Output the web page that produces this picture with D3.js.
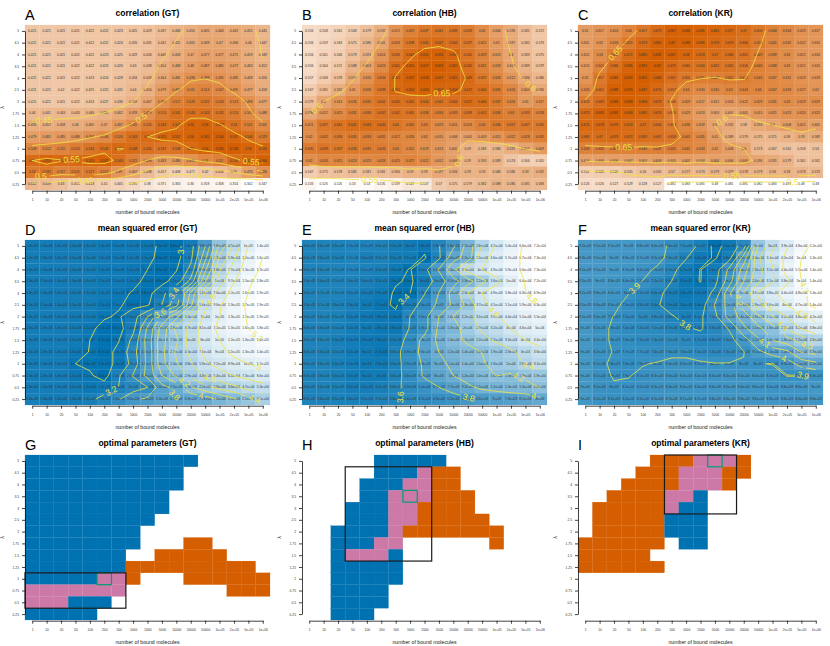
<!doctype HTML>
<html>
<head>
<meta charset="utf-8">
<script src="https://cdn.jsdelivr.net/npm/d3@7"></script>
<style>
	body { margin: 0; background: #fff; }
	text { font-family: "Liberation Sans", Arial, sans-serif; }
	.tick line, .domain { stroke: #111; stroke-width: 0.8; }
	.tick text { font-size: 3.3px; fill: #333; }
	.cellText { font-size: 3.3px; fill: #333; text-anchor: middle; }
	.contourLine { fill: none; stroke: #F0E442; stroke-width: 0.9; }
	.contourLabel { font-size: 8.6px; fill: #F0E442; text-anchor: middle; }
</style>
</head>
<body>
<div id="chart"></div>
<script type="text/javascript">

	var xLabels = ["1","10","20","50","100","200","500","1000","2000","5000","10000","20000","50000","1e+05","2e+05","5e+05","1e+06"];
	var yLabels = ["5","4.5","4","3.5","3","2.5","2","1.75","1.5","1.25","1","0.75","0.5","0.25"];

	var corrGT = [
		[.421,.421,.421,.421,.422,.422,.423,.425,.429,.437,.446,.455,.465,.464,.462,.455,.445],
		[.421,.421,.421,.421,.422,.422,.424,.426,.431,.441,.451,.461,.469,.47,.466,.46,.447],
		[.421,.421,.421,.422,.422,.423,.425,.429,.434,.446,.458,.47,.477,.477,.471,.459,.449],
		[.421,.421,.421,.422,.422,.423,.426,.43,.438,.454,.468,.48,.487,.485,.477,.463,.452],
		[.421,.421,.421,.422,.423,.424,.428,.434,.443,.464,.481,.496,.499,.495,.485,.468,.456],
		[.421,.421,.42,.422,.425,.425,.431,.44,.454,.479,.497,.511,.514,.507,.495,.477,.458],
		[.421,.421,.421,.422,.424,.427,.436,.449,.467,.497,.517,.529,.531,.524,.513,.496,.477],
		[.44,.441,.443,.443,.446,.451,.462,.478,.499,.524,.541,.543,.543,.535,.524,.505,.488],
		[.456,.457,.458,.46,.465,.47,.487,.505,.525,.543,.547,.56,.56,.552,.54,.521,.505],
		[.479,.481,.485,.488,.497,.506,.526,.543,.55,.555,.557,.56,.565,.564,.557,.546,.529],
		[.508,.512,.515,.524,.534,.543,.551,.548,.541,.537,.538,.55,.56,.565,.568,.56,.556],
		[.55,.559,.552,.553,.558,.562,.543,.521,.498,.483,.486,.495,.51,.52,.545,.555,.564],
		[.53,.531,.517,.525,.527,.515,.49,.467,.438,.417,.408,.412,.42,.434,.45,.476,.496],
		[.442,.439,.43,.415,.418,.41,.405,.395,.38,.371,.363,.36,.358,.358,.354,.342,.347]
	];
	var corrHB = [
		[.556,.558,.561,.568,.579,.592,.615,.629,.637,.641,.639,.633,.62,.606,.596,.581,.572],
		[.556,.559,.563,.575,.586,.601,.626,.638,.645,.647,.644,.637,.625,.61,.597,.582,.573],
		[.556,.561,.566,.579,.591,.614,.636,.647,.655,.656,.653,.641,.629,.613,.6,.583,.575],
		[.556,.564,.571,.588,.603,.623,.645,.654,.657,.659,.655,.645,.631,.619,.603,.589,.579],
		[.557,.568,.578,.597,.616,.634,.651,.657,.658,.657,.655,.649,.637,.626,.612,.596,.586],
		[.567,.581,.592,.61,.626,.638,.651,.654,.656,.653,.653,.647,.644,.635,.624,.609,.596],
		[.579,.6,.613,.626,.635,.641,.645,.645,.644,.642,.644,.647,.646,.637,.626,.61,.617],
		[.598,.612,.623,.631,.636,.642,.642,.641,.636,.634,.633,.639,.642,.636,.63,.633,.628],
		[.621,.637,.641,.645,.646,.645,.64,.635,.63,.623,.621,.623,.63,.636,.637,.637,.635],
		[.62,.632,.634,.635,.633,.631,.627,.626,.62,.615,.608,.605,.609,.615,.622,.628,.631],
		[.635,.639,.637,.636,.635,.634,.63,.625,.619,.613,.605,.59,.586,.586,.591,.601,.609],
		[.62,.626,.625,.623,.623,.626,.625,.627,.622,.612,.606,.59,.593,.589,.574,.566,.565],
		[.567,.575,.578,.581,.581,.581,.584,.59,.59,.597,.594,.59,.59,.586,.586,.59,.592],
		[.533,.526,.526,.53,.53,.535,.539,.547,.547,.57,.575,.579,.582,.588,.586,.585,.583]
	];
	var corrKR = [
		[.61,.617,.624,.64,.657,.673,.687,.686,.685,.681,.677,.67,.656,.644,.634,.623,.617],
		[.611,.62,.633,.655,.673,.685,.69,.686,.681,.676,.673,.666,.653,.641,.632,.622,.616],
		[.612,.63,.65,.672,.685,.691,.687,.68,.674,.67,.668,.661,.649,.639,.63,.621,.616],
		[.613,.641,.666,.685,.691,.69,.675,.665,.664,.662,.661,.656,.646,.638,.63,.621,.616],
		[.62,.657,.681,.691,.691,.684,.667,.655,.651,.649,.652,.651,.643,.637,.631,.623,.618],
		[.633,.661,.688,.691,.687,.675,.657,.64,.633,.635,.64,.643,.64,.637,.633,.627,.62],
		[.653,.669,.689,.689,.684,.673,.648,.629,.617,.612,.616,.622,.629,.631,.63,.629,.629],
		[.673,.685,.691,.684,.681,.674,.653,.623,.613,.603,.601,.605,.615,.621,.623,.624,.623],
		[.675,.678,.676,.674,.67,.664,.653,.636,.619,.6,.592,.58,.593,.6,.608,.615,.605],
		[.669,.67,.673,.672,.669,.667,.658,.645,.635,.61,.589,.579,.575,.575,.58,.59,.589],
		[.643,.645,.646,.647,.646,.647,.645,.641,.634,.62,.608,.6,.573,.567,.561,.558,.56],
		[.604,.606,.606,.607,.607,.609,.605,.607,.604,.606,.606,.606,.596,.591,.579,.561,.561],
		[.541,.546,.546,.555,.56,.565,.57,.577,.573,.579,.579,.578,.579,.58,.58,.578,.573],
		[.526,.526,.527,.529,.528,.527,.482,.483,.485,.48,.481,.481,.482,.483,.483,.48,.48]
	];

	// mean squared error, in thousands
	var mseGT = [
		[1.3,1.3,1.3,1.3,1.3,1.2,1.2,1.2,1.1,.94,.88,1.3,3.9,18,45,100,140],
		[1.3,1.3,1.3,1.3,1.3,1.3,1.2,1.2,1.1,.89,.87,1.4,5.5,27,59,120,160],
		[1.3,1.3,1.3,1.3,1.3,1.2,1.2,1.1,1,.85,.97,1.8,8.9,38,77,130,170],
		[1.3,1.3,1.3,1.3,1.3,1.2,1.2,1.1,.92,.88,1.2,2.9,15,50,97,150,180],
		[1.3,1.3,1.3,1.3,1.3,1.2,1.1,.97,.88,1.3,2.9,11,41,76,120,160,190],
		[1.3,1.3,1.3,1.3,1.3,1.1,1.05,.88,.94,1.6,3.4,14,56,96,130,170,190],
		[1.3,1.3,1.3,1.2,1.2,1.05,.95,1.3,2.5,6.8,14,35,70,100,130,165,190],
		[1.3,1.3,1.3,1.2,1.1,.87,.85,1.4,4.3,12,28,47,81,110,130,160,180],
		[1.3,1.3,1.3,1.2,1,.87,.98,1.8,4.8,14,23,50,80,100,120,130,160],
		[1.3,1.3,1.3,1.1,.99,.87,1.1,2.1,4.5,14,27,45,71,90,110,130,140],
		[1.3,1.3,1.3,1,.93,.93,1.05,1.9,4.5,14,24,38,59,72,89,100,110],
		[1.3,1.3,1.3,1.1,1.05,.85,1.5,2.6,4.5,10,17,29,43,54,64,73,86],
		[1.3,1.3,1.3,1.2,1.1,1.2,1.6,2,2.5,5.4,7.5,15,22,29,36,47,53],
		[1.4,1.3,1.3,1.3,1.4,1.9,2.4,3.6,4.3,5.3,6.1,6.9,7.7,11,15,21,31]
	];
	var mseHB = [
		[3.6,3.6,3.6,3.7,3.7,3.6,3.2,3,2.8,3.9,5.8,12,26,42,54,66,72],
		[3.6,3.6,3.5,3.7,3.4,3.5,3.1,3.1,2.4,3.7,8.4,12,35,46,57,67,73],
		[3.6,3.6,3.7,3.7,3.5,3.3,2.9,2.45,3.5,6.6,14,31,40,49,59,66,73],
		[3.6,3.6,3.7,3.6,3.4,3.1,2.6,2.4,3,5,8.5,13,22,36,50,64,72],
		[3.6,3.7,3.7,3.5,3.2,2.9,2.4,2.5,3.9,6.4,12,25,40,49,58,63,69],
		[3.6,3.7,3.6,3.3,3,2.7,2.4,3.4,4.6,7,11,18,37,45,51,59,63],
		[3.6,3.6,3.5,3.2,2.9,2.8,2.7,4,5.5,10,16,22,31,39,44,51,55],
		[3.6,3.6,3.5,3.2,3,2.8,2.8,4.1,5.3,11,13,20,27,32,40,46,50],
		[3.6,3.6,3.3,3.1,2.9,2.8,3.2,4.7,7.3,11,14,17,22,27,33,40,44],
		[3.6,3.6,3.5,3.1,3,2.7,3.6,4.9,7.6,10,12,14,16,19,23,30,36],
		[3.6,3.6,3.4,3.1,3,2.9,3.5,4.9,6.8,9,11,14,15,19,20,26,31],
		[3.6,3.6,3.4,3.1,3,3,3.6,4.6,6.7,8,10,12,14,16,15,18,19],
		[3.6,3.6,3.5,3.2,3.2,3.3,3.8,4.3,5.1,6.3,7.7,9.2,11,12,13,13,16],
		[3.6,3.6,3.5,3.4,3.5,3.7,3.8,4.4,4.7,4.9,5.2,5.9,6.6,7,7.4,8.1,9]
	];
	var mseKR = [
		[9.2,9.1,9.1,9,8.8,8.6,7.6,7.1,6,4.7,5.4,7,20,30,39,48,52],
		[9.3,9.1,9,8.9,8.7,8.5,7.4,6.4,5.4,4.9,5.8,11,24,34,42,50,53],
		[9.1,9.1,9,8.7,8.4,7.7,6.7,5.7,4.98,5.6,8.4,14,23,31,44,51,54],
		[9.1,9,8.8,8.4,7.9,7.2,6.3,5.3,4.98,5.9,9,16,24,31,38,50,54],
		[9.1,8.8,8.6,8,7.2,6.6,5.9,5.3,5.4,6.7,12,20,33,38,44,48,54],
		[9.1,8.6,8.3,7.5,6.9,6.4,5.9,5.6,5.6,8.1,11,18,29,36,40,47,54],
		[9.1,8.4,7.9,7.5,7,6.8,6.4,6,6.1,7.5,11,14,19,25,32,38,42],
		[9,8.2,7.8,7.4,7.2,7.1,6.7,6.4,6.2,6.9,8.1,12,15,18,26,32,38],
		[9,8.2,7.8,7.6,7.3,7.3,7.2,7,6.7,6.8,7.4,9,12,16,18,22,26],
		[9,8.2,7.9,7.7,7.7,7.6,7.6,7.6,7.4,7.1,7.3,7.9,9.5,11,12,16,17],
		[9,8.1,7.8,7.6,7.9,8,8.3,8.3,8.1,8,8,8,8,7.9,8.9,11,12],
		[9,8.1,7.9,7.9,8.1,8.3,8.3,8.4,8.4,8.4,8.4,8.5,8.4,8.3,7.9,7.9,8.3],
		[9,8.1,8,8.1,8.2,8.3,8.3,8.4,8.5,8.6,8.6,8.6,8.6,8.5,8.6,8.6,9],
		[9,8.2,8.1,8.2,8.3,8.5,8.7,8.7,8.7,8.8,8.8,8.8,8.8,8.8,8.8,8.6,8.8]
	];

	// b = low mse only, o = high correlation only, p = both, . = neither
	var optGT = [
		"bbbbbbbbbbbb.....",
		"bbbbbbbbbbb......",
		"bbbbbbbbbbb......",
		"bbbbbbbbbb.......",
		"bbbbbbbbbb.......",
		"bbbbbbbbb........",
		"bbbbbbbb.........",
		"bbbbbbbb...oo....",
		"bbbbbbb..ooooo...",
		"bbbbbbbooooooooo.",
		"bbbbbppo...oooooo",
		"ppppppp.......ooo",
		"pppbbb...........",
		"bbbbb............"
	];
	var optHB = [
		".....bbbbb.......",
		".....bbbpoo......",
		"....bbbppoo......",
		"....bbpppooo.....",
		"...bbbppoooo.....",
		"...bbbppooooo....",
		"..bbbbpooooooo...",
		"..bbbpp......o...",
		"..bpppb..........",
		"..bbbbb..........",
		"..bbbbb..........",
		"..bbbb...........",
		"..bbbb...........",
		"..bbb............"
	];
	var optKR = [
		".....ooopppo.....",
		"....ooopppoo.....",
		"...oooopppo......",
		"..ooooppb........",
		".ooooopbb........",
		".ooooobbb........",
		".ooooobbb........",
		"oooooo.bb........",
		"ooooo............",
		"oooooo...........",
		".................",
		".................",
		".................",
		"................."
	];

	// [first x, last x, first lambda, last lambda]
	var windowGT = ["1","500","1","0.5"];
	var windowHB = ["50","2000","4.5","1.5"];
	var windowKR = ["500","10000","5","3"];
	var bestGT = ["200","1"];
	var bestHB = ["1000","3.5"];
	var bestKR = ["5000","5"];

	var levelsCorr = [0.4,0.45,0.5,0.55,0.6,0.65];
	var levelsGT = [3,3.2,3.4,3.6,3.8,4,4.2,4.4,4.6,4.8,5,5.2];
	var levelsHB = [3.4,3.6,3.8,4,4.2,4.4,4.6,4.8];
	var levelsKR = [3.7,3.8,3.9,4,4.1,4.2,4.3,4.4,4.5,4.6,4.7];

	// contour labels: level, then roughly where on the grid (column, row)
	var labelsCorrGT = [[0.45,0.8,7.6],[0.5,7.5,7.3],[0.55,2.7,10.7],[0.55,15.2,11],[0.5,0.6,12.5],[0.45,3.7,12.6],[0.4,11.4,12.2]];
	var labelsCorrHB = [[0.65,9.2,5.4],[0.6,0.5,6.5],[0.6,15.4,4.7],[0.6,11.5,11.4],[0.55,4.2,12.6]];
	var labelsCorrKR = [[0.65,2,1.75],[0.65,2.7,9.85],[0.6,9.5,7.6],[0.55,10.2,12.2],[0.5,14.4,12.9]];
	var labelsMseGT = [[3,10.3,0.5],[3.2,5.4,12.1],[3.4,9.7,3.9],[3.6,8.8,5.6],[3.8,9.7,12.8],[4,11.7,12.8],[4.2,10.6,11.5],[4.4,15.6,12.7],[4.6,12.3,11.3],[4.8,12.4,4.6],[5,15.7,10.4],[5.2,15.6,7.8]];
	var labelsMseHB = [[3.4,6.6,4.5],[3.6,5.8,12.8],[3.8,11.1,12.8],[4,15.6,12.8],[4.2,14.4,11.4],[4.4,15.3,9.7],[4.6,12.8,5.6],[4.8,15.4,4.6]];
	var labelsMseKR = [[3.9,3.5,3.7],[3.8,7,6.7],[3.9,15.4,11.1],[4,13.8,9.7],[4.1,12.4,8.3],[4.2,10.7,4.6],[4.3,15.4,8.4],[4.4,13.8,6.7],[4.5,12.7,4.9],[4.6,15.1,5.7],[4.7,15,3.6]];

	var panelLeft = [25, 302, 578];
	var rowTop = [25, 240, 455];
	var panelW = 245, panelH = 165;

	var svg = d3.select("#chart").append("svg")
		.attr("width", 830)
		.attr("height", 646);

	var optColors = { b: "#0072B2", o: "#D55E00", p: "#CC79A7" };

	function fmtMse(v) {
		return v.toExponential(1).replace(".0e", "e").replace(/e\+(\d)$/, "e+0$1");
	}

	function drawFrame(letter, title, col, row) {
		var left = panelLeft[col], top = rowTop[row];
		var g = svg.append("g").attr("transform", "translate(" + left + "," + top + ")");
		var x = d3.scaleBand().domain(xLabels).range([0, panelW]);
		var y = d3.scaleBand().domain(yLabels).range([0, panelH]);
		var xAxis = d3.scalePoint().domain(xLabels).range([x.bandwidth() / 2, panelW - x.bandwidth() / 2]);
		var yAxis = d3.scalePoint().domain(yLabels).range([y.bandwidth() / 2, panelH - y.bandwidth() / 2]);

		var cells = g.append("g");

		g.append("g")
			.attr("transform", "translate(0," + (panelH + 0.7) + ")")
			.call(d3.axisBottom(xAxis).tickSize(3).tickPadding(5).tickSizeOuter(0));
		g.append("g")
			.call(d3.axisLeft(yAxis).tickSize(3).tickPadding(3).tickSizeOuter(0));

		g.append("text")
			.attr("x", panelW / 2).attr("y", -9)
			.attr("text-anchor", "middle")
			.style("font-size", "8.5px").style("font-weight", "bold")
			.text(title);
		g.append("text")
			.attr("x", 0).attr("y", -5)
			.style("font-size", "14.5px")
			.text(letter);
		g.append("text")
			.attr("x", panelW / 2).attr("y", panelH + 23.7)
			.attr("text-anchor", "middle")
			.style("font-size", "5.2px").style("fill", "#222")
			.text("number of bound molecules");
		g.append("text")
			.attr("transform", "translate(-21," + (panelH / 2) + ") rotate(-90)")
			.attr("text-anchor", "middle")
			.style("font-size", "5.2px").style("fill", "#222")
			.text("λ");

		return { g: g, cells: cells, x: x, y: y };
	}

	function drawHeat(frame, rows, color, label) {
		var flat = [];
		rows.forEach(function (r, j) {
			r.forEach(function (v, i) {
				flat.push({ x: xLabels[i], y: yLabels[j], v: v });
			});
		});
		frame.cells.selectAll("rect").data(flat).enter().append("rect")
			.attr("x", function (d) { return frame.x(d.x); })
			.attr("y", function (d) { return frame.y(d.y); })
			.attr("width", frame.x.bandwidth())
			.attr("height", frame.y.bandwidth())
			.attr("fill", function (d) { return color(d.v); })
			.attr("stroke", function (d) { return color(d.v); })
			.attr("stroke-width", 0.2);
		frame.cells.selectAll("text").data(flat).enter().append("text")
			.attr("class", "cellText")
			.attr("x", function (d) { return frame.x(d.x) + frame.x.bandwidth() / 2; })
			.attr("y", function (d) { return frame.y(d.y) + frame.y.bandwidth() / 2 + 1.1; })
			.text(function (d) { return label(d.v); });
	}

	// contours come from d3.contours, the parts running along the grid edge are thrown away
	function drawContours(frame, rows, levels, labels) {
		var nx = xLabels.length, ny = yLabels.length;
		var gridX = d3.scaleLinear().domain([0, nx]).range([0, panelW]);
		var gridY = d3.scaleLinear().domain([0, ny]).range([0, panelH]);
		var contours = d3.contours().size([nx, ny]).thresholds(levels)(d3.merge(rows));
		var runs = [];
		contours.forEach(function (c) {
			c.coordinates.forEach(function (poly) {
				poly.forEach(function (ring) {
					splitRing(ring, nx, ny).forEach(function (run) {
						runs.push({ level: c.value, pts: resample(run, gridX, gridY) });
					});
				});
			});
		});

		var marks = labels.map(function (l) {
			var ax = gridX(l[1] + 0.5), ay = gridY(l[2] + 0.5);
			var best = null, bestD = Infinity;
			runs.forEach(function (r) {
				if (Math.abs(r.level - l[0]) > 1e-6) return;
				r.pts.forEach(function (p, k) {
					var d = (p.x - ax) * (p.x - ax) + (p.y - ay) * (p.y - ay);
					if (d < bestD) { bestD = d; best = { run: r, k: k }; }
				});
			});
			if (!best) return null;
			var pts = best.run.pts, a = pts[Math.max(0, best.k - 6)], b = pts[Math.min(pts.length - 1, best.k + 6)];
			var ang = Math.atan2(b.y - a.y, b.x - a.x) * 180 / Math.PI;
			if (ang > 90) ang -= 180;
			if (ang < -90) ang += 180;
			return { x: pts[best.k].x, y: pts[best.k].y, ang: ang, text: String(l[0]) };
		}).filter(function (m) { return m; });

		var line = d3.line()
			.defined(function (p) {
				return !marks.some(function (m) {
					var r = m.text.length * 2.2 + 1.5;
					return (p.x - m.x) * (p.x - m.x) + (p.y - m.y) * (p.y - m.y) < r * r;
				});
			})
			.x(function (p) { return p.x; })
			.y(function (p) { return p.y; });

		frame.g.selectAll(".contourLine").data(runs).enter().append("path")
			.attr("class", "contourLine")
			.attr("d", function (r) { return line(r.pts); });

		frame.g.selectAll(".contourLabel").data(marks).enter().append("text")
			.attr("class", "contourLabel")
			.attr("transform", function (m) { return "translate(" + m.x + "," + m.y + ") rotate(" + m.ang + ")"; })
			.attr("dy", "0.35em")
			.text(function (m) { return m.text; });
	}

	function splitRing(ring, nx, ny) {
		function edge(p) { return p[0] <= 0 || p[0] >= nx || p[1] <= 0 || p[1] >= ny; }
		var pts = ring.slice(0, ring.length - 1);
		var start = pts.findIndex(edge);
		if (start < 0) return [ring];
		var runs = [], cur = [];
		for (var k = 0; k <= pts.length; k++) {
			var p = pts[(start + k) % pts.length];
			if (edge(p)) {
				if (cur.length > 1) runs.push(cur);
				cur = [];
			} else {
				cur.push(p);
			}
		}
		return runs;
	}

	function resample(run, gridX, gridY) {
		var out = [];
		for (var k = 0; k < run.length - 1; k++) {
			var ax = gridX(run[k][0]), ay = gridY(run[k][1]);
			var bx = gridX(run[k + 1][0]), by = gridY(run[k + 1][1]);
			var n = Math.max(1, Math.ceil(Math.hypot(bx - ax, by - ay)));
			for (var t = 0; t < n; t++) {
				out.push({ x: ax + (bx - ax) * t / n, y: ay + (by - ay) * t / n });
			}
		}
		var last = run[run.length - 1];
		out.push({ x: gridX(last[0]), y: gridY(last[1]) });
		return out;
	}

	function drawOpt(frame, rows, win, best) {
		var flat = [];
		rows.forEach(function (r, j) {
			r.split("").forEach(function (c, i) {
				if (c != ".") flat.push({ x: xLabels[i], y: yLabels[j], c: c });
			});
		});
		frame.cells.selectAll("rect").data(flat).enter().append("rect")
			.attr("x", function (d) { return frame.x(d.x); })
			.attr("y", function (d) { return frame.y(d.y); })
			.attr("width", frame.x.bandwidth())
			.attr("height", frame.y.bandwidth())
			.attr("fill", function (d) { return optColors[d.c]; })
			.attr("stroke", function (d) { return optColors[d.c]; })
			.attr("stroke-width", 0.2);
		frame.cells.append("rect")
			.attr("x", frame.x(best[0]))
			.attr("y", frame.y(best[1]))
			.attr("width", frame.x.bandwidth())
			.attr("height", frame.y.bandwidth())
			.attr("fill", "none")
			.attr("stroke", "#009E73")
			.attr("stroke-width", 1.2);
		frame.cells.append("rect")
			.attr("x", frame.x(win[0]))
			.attr("y", frame.y(win[2]))
			.attr("width", frame.x(win[1]) + frame.x.bandwidth() - frame.x(win[0]))
			.attr("height", frame.y(win[3]) + frame.y.bandwidth() - frame.y(win[2]))
			.attr("fill", "none")
			.attr("stroke", "#1a1a1a")
			.attr("stroke-width", 1.2);
	}

	function corrPanel(letter, title, col, rows, labels) {
		var frame = drawFrame(letter, title, col, 0);
		var color = d3.scaleLinear().domain(d3.extent(d3.merge(rows))).range(["#ffffff", "#D55E00"]);
		drawHeat(frame, rows, color, String);
		drawContours(frame, rows, levelsCorr, labels);
	}

	function msePanel(letter, title, col, rows, levels, labels) {
		var frame = drawFrame(letter, title, col, 1);
		var vals = rows.map(function (r) { return r.map(function (v) { return v * 1000; }); });
		var color = d3.scaleLog().domain(d3.extent(d3.merge(vals))).range(["#0072B2", "#ffffff"]);
		drawHeat(frame, vals, color, fmtMse);
		var logs = vals.map(function (r) { return r.map(function (v) { return Math.log10(v); }); });
		drawContours(frame, logs, levels, labels);
	}

	function optPanel(letter, title, col, rows, win, best) {
		var frame = drawFrame(letter, title, col, 2);
		drawOpt(frame, rows, win, best);
	}

	corrPanel("A", "correlation (GT)", 0, corrGT, labelsCorrGT);
	corrPanel("B", "correlation (HB)", 1, corrHB, labelsCorrHB);
	corrPanel("C", "correlation (KR)", 2, corrKR, labelsCorrKR);
	msePanel("D", "mean squared error (GT)", 0, mseGT, levelsGT, labelsMseGT);
	msePanel("E", "mean squared error (HB)", 1, mseHB, levelsHB, labelsMseHB);
	msePanel("F", "mean squared error (KR)", 2, mseKR, levelsKR, labelsMseKR);
	optPanel("G", "optimal parameters (GT)", 0, optGT, windowGT, bestGT);
	optPanel("H", "optimal parameters (HB)", 1, optHB, windowHB, bestHB);
	optPanel("I", "optimal parameters (KR)", 2, optKR, windowKR, bestKR);

</script>
</body>
</html>
